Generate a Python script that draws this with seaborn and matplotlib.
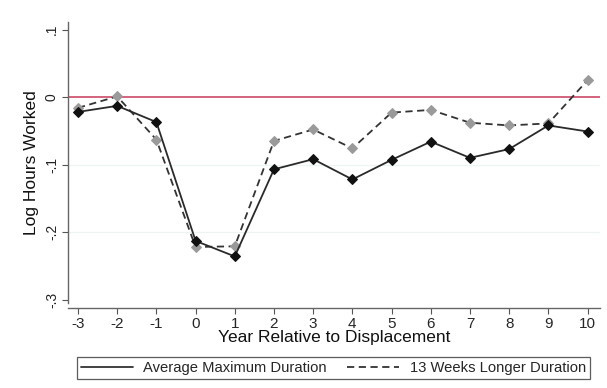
import matplotlib
matplotlib.use("Agg")
import matplotlib.pyplot as plt
from matplotlib.lines import Line2D
import seaborn as sns
import pandas as pd

years = [-3, -2, -1, 0, 1, 2, 3, 4, 5, 6, 7, 8, 9, 10]
avg_max = [-0.022, -0.013, -0.037, -0.213, -0.236, -0.107, -0.092, -0.122,
           -0.093, -0.066, -0.090, -0.077, -0.042, -0.051]
weeks13 = [-0.016, 0.001, -0.063, -0.222, -0.221, -0.065, -0.048, -0.076,
           -0.023, -0.019, -0.038, -0.042, -0.039, 0.025]
yticks = [0.1, 0.0, -0.1, -0.2, -0.3]
ytick_labels = [".1", "0", "-.1", "-.2", "-.3"]
series_names = ["Average Maximum Duration", "13 Weeks Longer Duration"]

sns.set_theme(style="white")
plt.rcParams['font.family'] = ['Liberation Sans', 'DejaVu Sans']

df = pd.DataFrame({"year": years, "a": avg_max, "b": weeks13})

fig = plt.figure(figsize=(6.07, 3.88), dpi=100)
ax = fig.add_axes([0.112, 0.219, 0.876, 0.724])

for y in [-0.1, -0.2]:
    ax.axhline(y, color="#eef4f3", lw=0.9, zorder=0)
ax.axhline(0, color="#c8385a", lw=1.1, zorder=1)

sns.lineplot(data=df, x="year", y="b", ax=ax, color="#333333", lw=1.3,
             linestyle=(0, (4, 2.5)), marker="D", markersize=5,
             markerfacecolor="#9a9a9a", markeredgecolor="#9a9a9a", zorder=3)
sns.lineplot(data=df, x="year", y="a", ax=ax, color="#2a2a2a", lw=1.3,
             marker="D", markersize=5, markerfacecolor="#111111",
             markeredgecolor="#111111", zorder=4)

ax.set_xlim(-3.255, 10.31)
ax.set_ylim(-0.305, 0.111)
ax.set_xticks(years)
ax.set_xticklabels([str(y) for y in years], fontsize=10, color="#222222")
ax.set_yticks(yticks)
ax.set_yticklabels(ytick_labels, fontsize=10, color="#222222", rotation=90,
                   va="center")
ax.tick_params(axis="both", which="both", length=4, width=0.8,
               color="#555555", bottom=True, left=True, pad=2.5)
ax.set_xlabel("Year Relative to Displacement", fontsize=12.5, color="#111111",
              labelpad=-1)
ax.set_ylabel("Log Hours Worked", fontsize=12.5, color="#111111", labelpad=4)

for s in ["top", "right"]:
    ax.spines[s].set_visible(False)
for s in ["left", "bottom"]:
    ax.spines[s].set_color("#666666")
    ax.spines[s].set_linewidth(1.0)
ax.spines["bottom"].set_position(("outward", 3.6))

handles = [Line2D([0], [0], color="#333333", lw=1.3),
           Line2D([0], [0], color="#333333", lw=1.3, linestyle=(0, (4, 2.5)))]
leg = fig.legend(handles, series_names, loc="center", ncol=2,
                 bbox_to_anchor=(0.549, 0.0515), fontsize=10.6, frameon=True,
                 fancybox=False, edgecolor="#333333", handlelength=3.55,
                 handletextpad=0.7, columnspacing=1.37, borderpad=0.28)
leg.get_frame().set_linewidth(0.9)

fig.savefig("out.png", dpi=100, facecolor="white")
